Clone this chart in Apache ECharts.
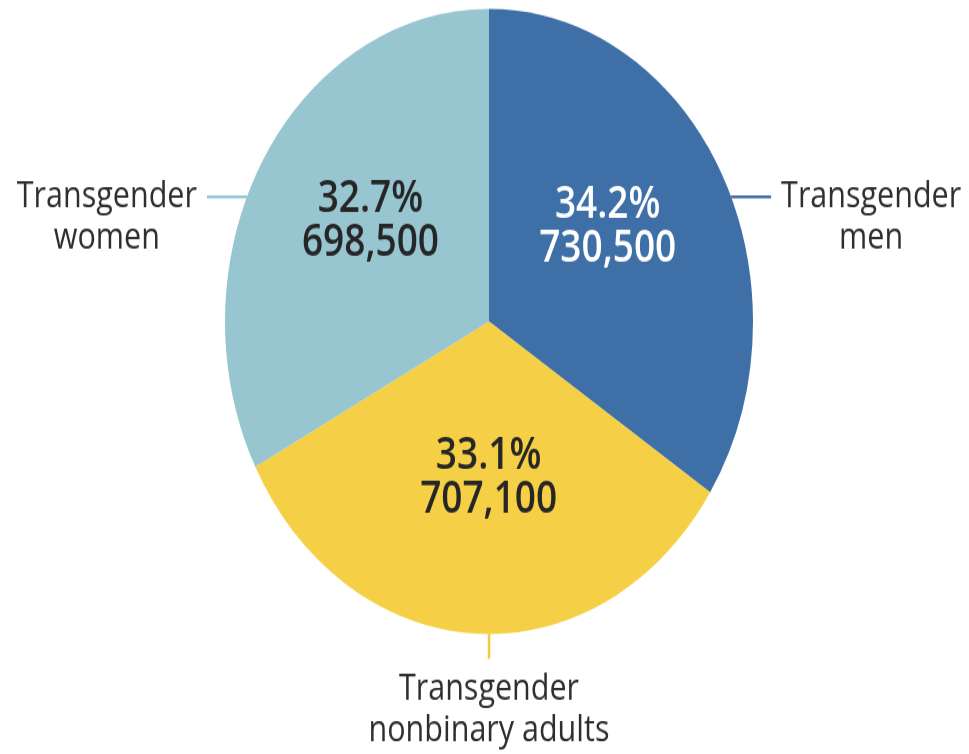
<!DOCTYPE html>
<html>
<head>
<meta charset="utf-8">
<script src="https://cdn.jsdelivr.net/npm/echarts@6/dist/echarts.min.js"></script>
<style>
  html { overflow: hidden; }
  body { margin: 0; padding: 0; background: #fff; height: 754px; }
  /* the source picture is stretched vertically, so stretch the chart the same way */
  #chart { width: 969px; height: 636.8px; transform: scaleY(1.184); transform-origin: 0 0; }
</style>
</head>
<body>
<div id="chart"></div>
<script>
const groups = ["Transgender\nmen", "Transgender\nnonbinary adults", "Transgender\nwomen"];
const adults = [730500, 707100, 698500];
const shares = [34.2, 33.1, 32.7];
const colors = ["#3e6fa6", "#f5d046", "#97c5d0"];
const lineColors = ["#3e6fa6", "#f2cb3a", "#8ecad6"];
const valueColors = ["#ffffff", "#262626", "#262626"];

// pie layout (unscaled px)
const CX = 489;
const CY = 271.5;
const R = 264;
// where the outer label lines leave the pie, degrees clockwise from 12 o'clock
const labelAngles = [66.5, 180, 293.5];

const fmt = n => n.toLocaleString("en-US");

const myChart = echarts.init(document.getElementById("chart"));

const option = {
  animation: false,
  series: [
    {
      // slices + outer category labels
      type: "pie",
      center: [CX, CY],
      radius: [0, R],
      startAngle: 90,
      clockwise: true,
      silent: true,
      emphasis: { disabled: true },
      data: groups.map((g, i) => ({
        name: g,
        value: adults[i],
        itemStyle: { color: colors[i] },
        labelLine: { lineStyle: { color: lineColors[i], width: 2.5 } }
      })),
      label: {
        show: true,
        position: "outside",
        formatter: "{b}",
        fontFamily: "Open Sans",
        fontSize: 30.5,
        lineHeight: 35.5,
        color: "#2e2e2e",
        align: "center"
      },
      labelLine: { show: true, length: 10, length2: 10, smooth: false },
      labelLayout: function (p) {
        const a = labelAngles[p.dataIndex] * Math.PI / 180;
        const ex = CX + R * Math.sin(a);
        const ey = CY - R * Math.cos(a);
        if (Math.abs(Math.sin(a)) < 0.2) {
          return {
            x: ex, y: ey + 29,
            align: "center", verticalAlign: "top",
            labelLinePoints: [[ex, ey], [ex, ey + 21]]
          };
        }
        // text block centred, but hung off the end of the line
        const dir = Math.sin(a) > 0 ? 1 : -1;
        const w = p.labelRect.width;
        return {
          x: ex + dir * (50 + w / 2), y: ey - 17.75,
          align: "center", verticalAlign: "top",
          labelLinePoints: [[ex, ey], [ex + dir * 40, ey]]
        };
      }
    },
    {
      // percent / count labels inside the slices
      type: "pie",
      center: [CX, CY],
      radius: [0, R],
      startAngle: 90,
      clockwise: true,
      silent: true,
      emphasis: { disabled: true },
      itemStyle: { color: "transparent" },
      data: groups.map((g, i) => ({
        name: g,
        value: adults[i],
        label: { color: valueColors[i] }
      })),
      label: {
        show: true,
        position: "inside",
        formatter: p => shares[p.dataIndex].toFixed(1) + "%\n" + fmt(adults[p.dataIndex]),
        fontFamily: "Open Sans",
        fontWeight: 600,
        fontSize: 37,
        lineHeight: 37
      },
      labelLine: { show: false },
      labelLayout: function (p) {
        if (p.dataIndex === 1) return { dx: 6, dy: -2 };
        return { dx: p.dataIndex === 2 ? -3 : 0, dy: -15 };
      }
    }
  ]
};

myChart.setOption(option);
</script>
</body>
</html>
